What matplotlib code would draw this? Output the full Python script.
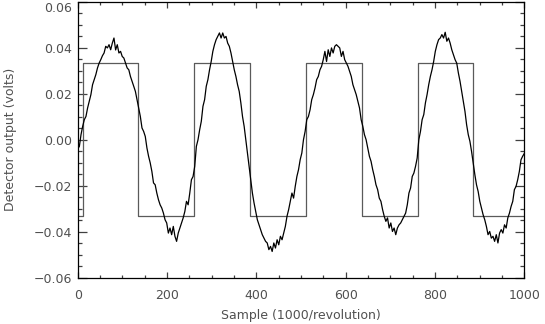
# -*- coding: utf-8 -*-
import numpy as np
import matplotlib
matplotlib.use("Agg")
import matplotlib.pyplot as plt
from matplotlib.ticker import MultipleLocator

# detector output, one list per revolution quarter (volts)
quarter1 = [-0.0040,
            -0.0029, 0.0022, 0.0058, 0.0087, 0.0101, 0.0138, 0.0167, 0.0196, 0.0239, 0.0261,
            0.0283, 0.0312, 0.0333, 0.0348, 0.0365, 0.0377, 0.0406, 0.0399, 0.0413, 0.0391,
            0.0420, 0.0442, 0.0390, 0.0413, 0.0377, 0.0384, 0.0362, 0.0355, 0.0333, 0.0312,
            0.0304, 0.0275, 0.0254, 0.0232, 0.0210, 0.0174, 0.0138, 0.0101, 0.0051, 0.0036,
            0.0014, -0.0036, -0.0072, -0.0101, -0.0138, -0.0188, -0.0196, -0.0232, -0.0261, -0.0283,
            -0.0297, -0.0319, -0.0348, -0.0362, -0.0406, -0.0384, -0.0413, -0.0377, -0.0420, -0.0442,
            -0.0406, -0.0384, -0.0362, -0.0340, -0.0312, -0.0268, -0.0283, -0.0232, -0.0174]
quarter2 = [-0.0160, -0.0116, -0.0029, 0.0000, 0.0043, 0.0080, 0.0145, 0.0174, 0.0232, 0.0261,
            0.0304, 0.0340, 0.0384, 0.0413, 0.0435, 0.0449, 0.0464, 0.0442, 0.0464, 0.0442,
            0.0449, 0.0420, 0.0406, 0.0377, 0.0340, 0.0304, 0.0275, 0.0239, 0.0210, 0.0160,
            0.0101, 0.0058, 0.0000, -0.0058, -0.0116, -0.0174, -0.0232, -0.0275, -0.0312, -0.0348,
            -0.0370, -0.0391, -0.0413, -0.0428, -0.0442, -0.0449, -0.0478, -0.0464, -0.0486, -0.0449,
            -0.0471, -0.0435, -0.0457, -0.0420, -0.0435, -0.0406, -0.0377, -0.0333, -0.0304, -0.0268,
            -0.0232, -0.0254, -0.0203, -0.0160, -0.0130, -0.0087, -0.0058, 0.0000]
quarter3 = [0.0036, 0.0087, 0.0101, 0.0130, 0.0174, 0.0196, 0.0225, 0.0261, 0.0275, 0.0304,
            0.0319, 0.0348, 0.0384, 0.0340, 0.0391, 0.0362, 0.0399, 0.0377, 0.0406, 0.0413,
            0.0406, 0.0399, 0.0362, 0.0384, 0.0348, 0.0333, 0.0319, 0.0297, 0.0275, 0.0239,
            0.0217, 0.0196, 0.0167, 0.0138, 0.0087, 0.0058, 0.0022, 0.0000, -0.0036, -0.0072,
            -0.0094, -0.0130, -0.0160, -0.0196, -0.0217, -0.0254, -0.0268, -0.0304, -0.0333, -0.0355,
            -0.0340, -0.0384, -0.0362, -0.0399, -0.0384, -0.0413, -0.0384, -0.0370, -0.0362, -0.0348,
            -0.0333, -0.0319, -0.0283, -0.0232, -0.0210, -0.0160, -0.0145]
quarter4 = [-0.0116, -0.0080, 0.0000, 0.0036, 0.0087, 0.0109, 0.0160, 0.0196, 0.0239, 0.0275,
            0.0304, 0.0340, 0.0384, 0.0413, 0.0435, 0.0442, 0.0457, 0.0442, 0.0467, 0.0428,
            0.0442, 0.0420, 0.0391, 0.0370, 0.0348, 0.0333, 0.0290, 0.0254, 0.0210, 0.0167,
            0.0123, 0.0065, 0.0022, -0.0007, -0.0051, -0.0101, -0.0152, -0.0196, -0.0225, -0.0268,
            -0.0297, -0.0326, -0.0348, -0.0377, -0.0413, -0.0399, -0.0428, -0.0420, -0.0442, -0.0413,
            -0.0449, -0.0406, -0.0391, -0.0406, -0.0370, -0.0384, -0.0340, -0.0319, -0.0290, -0.0268,
            -0.0217, -0.0203, -0.0174, -0.0138, -0.0087, -0.0072,
            -0.0060]

# reference square wave: switching samples and levels
square_edges = [0, 11, 136, 261, 386, 511, 636, 761, 886, 1000]
square_levels = [-0.0333, 0.0333, -0.0333, 0.0333, -0.0333, 0.0333, -0.0333, 0.0333, -0.0333]

x_ticks = [0, 200, 400, 600, 800, 1000]
y_ticks = [-0.06, -0.04, -0.02, 0.00, 0.02, 0.04, 0.06]
y_ticklabels = ["\u22120.06", "\u22120.04", "\u22120.02", "0.00", "0.02", "0.04", "0.06"]

TXT = "#505050"


def main():
    g = np.array(quarter1 + quarter2 + quarter3 + quarter4)
    n = np.linspace(0, 1000, len(g))    # sample index

    fig = plt.figure(figsize=(5.45, 3.24), dpi=100)
    ax = fig.add_axes([0.1426, 0.1429, 0.8194, 0.8519])

    # square wave (drawn as steps)
    ax.step(square_edges, square_levels + [square_levels[-1]], where="post",
            color="#5a5a5a", lw=0.9)
    # detector signal
    ax.plot(n, g, color="black", lw=0.9)

    ax.set_xlim(0, 1000)
    ax.set_ylim(-0.06, 0.06)
    ax.set_xticks(x_ticks)
    ax.set_xticklabels([str(v) for v in x_ticks])
    ax.set_yticks(y_ticks)
    ax.set_yticklabels(y_ticklabels)
    ax.xaxis.set_minor_locator(MultipleLocator(50))
    ax.yaxis.set_minor_locator(MultipleLocator(0.005))

    ax.tick_params(which="both", direction="in", top=True, right=True,
                   colors="#404040", labelcolor=TXT, labelsize=9, width=0.9)
    ax.tick_params(axis="x", which="major", length=4, pad=8)
    ax.tick_params(axis="x", which="minor", length=2)
    ax.tick_params(axis="y", which="major", length=6.5, pad=4)
    ax.tick_params(axis="y", which="minor", length=3.2)
    # top label kept inside the picture, as in the original
    ax.get_yticklabels()[-1].set_verticalalignment("top")
    for s in ax.spines.values():
        s.set_color("black")
        s.set_linewidth(0.9)

    ax.set_xlabel("Sample (1000/revolution)", fontsize=9, color=TXT, labelpad=5)
    ax.set_ylabel("Detector output (volts)", fontsize=9, color=TXT, labelpad=12)

    fig.savefig("out.png", dpi=100)


if __name__ == '__main__':
    main()
